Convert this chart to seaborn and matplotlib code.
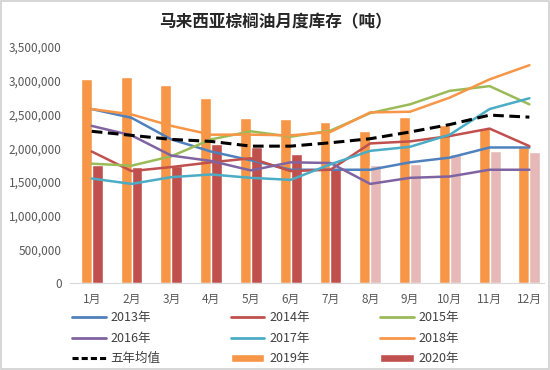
import pandas as pd
import numpy as np
import matplotlib
matplotlib.use("Agg")
import matplotlib.pyplot as plt
import seaborn as sns
from matplotlib.lines import Line2D
from matplotlib.patches import Patch

sns.set_style("white")
plt.rcParams['font.family'] = ['Noto Sans CJK SC', 'DejaVu Sans']

months = ['1月', '2月', '3月', '4月', '5月', '6月', '7月', '8月', '9月', '10月', '11月', '12月']
# million tonnes
y2013 = [2.58, 2.45, 2.13, 1.95, 1.82, 1.68, 1.68, 1.68, 1.79, 1.86, 2.01, 2.01]
y2014 = [1.95, 1.66, 1.72, 1.79, 1.85, 1.66, 1.68, 2.07, 2.10, 2.18, 2.29, 2.03]
y2015 = [1.77, 1.74, 1.88, 2.13, 2.25, 2.17, 2.26, 2.52, 2.65, 2.85, 2.92, 2.65]
y2016 = [2.33, 2.19, 1.89, 1.81, 1.67, 1.79, 1.78, 1.47, 1.56, 1.58, 1.68, 1.68]
y2017 = [1.55, 1.47, 1.57, 1.61, 1.56, 1.53, 1.76, 1.96, 2.02, 2.20, 2.58, 2.74]
y2018 = [2.58, 2.50, 2.33, 2.20, 2.20, 2.19, 2.24, 2.53, 2.54, 2.75, 3.02, 3.23]
avg5 = [2.25, 2.19, 2.13, 2.10, 2.03, 2.03, 2.08, 2.14, 2.24, 2.35, 2.49, 2.46]
y2019 = [3.02, 3.06, 2.93, 2.74, 2.45, 2.43, 2.39, 2.25, 2.46, 2.35, 2.30, 2.02]
y2020 = [1.75, 1.72, 1.73, 2.06, 2.02, 1.91, 1.71, 1.75, 1.77, 1.92, 1.96, 1.94]
n_actual_2020 = 7  # months after this are drawn in a lighter colour

line_names = ['2013年', '2014年', '2015年', '2016年', '2017年', '2018年']
line_vals = [y2013, y2014, y2015, y2016, y2017, y2018]
line_colors = ['#4F81BD', '#C0504D', '#9BBB59', '#8064A2', '#4BACC6', '#F79646']
bar_colors = ['#F79646', '#C0504D']
pink = '#E6B9B8'

bars = pd.DataFrame({
    'month': months * 2,
    'year': ['2019年'] * 12 + ['2020年'] * 12,
    'val': np.array(y2019 + y2020) * 1e6,
})
lines = pd.DataFrame({
    'x': list(range(12)) * len(line_names),
    'year': [n for n in line_names for _ in range(12)],
    'val': np.array(sum(line_vals, [])) * 1e6,
})

fig = plt.figure(figsize=(5.5, 3.7), dpi=100)
ax = fig.add_axes([0.127, 0.235, 0.863, 0.638])

sns.barplot(data=bars, x='month', y='val', hue='year', palette=bar_colors,
            width=0.55, gap=0, saturation=1, legend=False, ax=ax)
for i, p in enumerate(ax.containers[1]):
    if i >= n_actual_2020:
        p.set_facecolor(pink)

sns.lineplot(data=lines, x='x', y='val', hue='year', palette=line_colors,
             linewidth=1.8, legend=False, ax=ax)
sns.lineplot(x=range(12), y=np.array(avg5) * 1e6, color='black', linewidth=2.2,
             linestyle=(0, (3.5, 1.8)), ax=ax)

ax.set_xlim(-0.55, 11.38)
ax.set_ylim(0, 3500000)
ax.set_yticks(range(0, 3500001, 500000))
ax.set_yticklabels([f'{v:,}' for v in range(0, 3500001, 500000)])
ax.set_xlabel('')
ax.set_ylabel('')
ax.tick_params(axis='both', length=0, labelsize=8.5, colors='#595959')
ax.tick_params(axis='x', pad=7)
ax.tick_params(axis='y', pad=6)
for s in ['top', 'right', 'left']:
    ax.spines[s].set_visible(False)
ax.spines['bottom'].set_color('#D9D9D9')

fig.suptitle('马来西亚棕榈油月度库存（吨）', y=0.965, fontsize=12, fontweight='bold', color='#262626')

handles = [Line2D([], [], color=c, lw=2) for c in line_colors]
h_avg = Line2D([], [], color='black', lw=2.2, linestyle=(0, (2, 1)))
h19 = Patch(facecolor=bar_colors[0])
h20 = Patch(facecolor=bar_colors[1])
order_h = [handles[0], handles[3], h_avg, handles[1], handles[4], h19, handles[2], handles[5], h20]
order_l = ['2013年', '2016年', '五年均值', '2014年', '2017年', '2019年', '2015年', '2018年', '2020年']
fig.legend(order_h, order_l, ncol=3, loc='upper left', bbox_to_anchor=(0.11, 0.19),
           frameon=False, fontsize=9, handlelength=2.7, handleheight=0.5,
           handletextpad=0.4, columnspacing=5.6, labelspacing=0.62, labelcolor='#404040')

fig.patches.append(plt.Rectangle((0.002, 0.002), 0.996, 0.996, transform=fig.transFigure,
                                 fill=False, edgecolor='#D0D0D0', lw=1.2))

fig.savefig('out.png', dpi=100)
